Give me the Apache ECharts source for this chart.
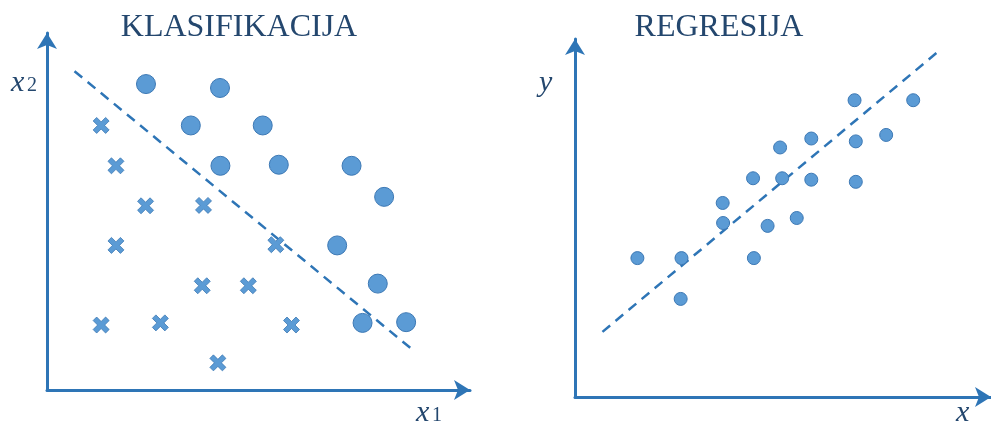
<!DOCTYPE html>
<html><head><meta charset="utf-8">
<script src="https://cdn.jsdelivr.net/npm/echarts@6/dist/echarts.min.js"></script>
<style>html,body{margin:0;padding:0;background:#fff}#c{width:991px;height:425px}</style>
</head><body><div id="c"></div>
<script>
// Classification: class A (circles) and class B (crosses), coordinates in x1/x2 units (0..10)
const clsCircles = [[2.34,8.57],[4.09,8.46],[3.40,7.41],[5.10,7.41],[4.10,6.28],[5.48,6.31],[7.20,6.28],[7.97,5.41],[6.86,4.05],[7.82,2.98],[7.46,1.88],[8.49,1.90]];
const clsCrosses = [[1.28,7.41],[1.63,6.28],[2.33,5.16],[3.70,5.17],[1.63,4.05],[5.41,4.07],[3.67,2.92],[4.76,2.92],[1.28,1.82],[2.68,1.88],[5.78,1.82],[4.04,0.76]];
const clsBoundary = [[0.65,8.93],[8.65,1.12]];
// Regression: points and fitted line (x/y units 0..10)
const regPoints = [[1.50,3.88],[2.56,3.88],[2.54,2.74],[3.55,5.42],[3.56,4.86],[4.28,6.11],[4.30,3.88],[4.63,4.78],[4.93,6.97],[4.98,6.11],[5.33,5.00],[5.68,7.22],[5.68,6.07],[6.72,8.29],[6.75,7.14],[6.75,6.01],[7.48,7.32],[8.13,8.29]];
const regLine = [[0.66,1.82],[8.71,9.63]];
const titles = ['KLASIFIKACIJA','REGRESIJA'];

const AX = '#2e75b6', PT = '#5b9bd5', PB = '#3c78b4', TXT = '#24476e';
const crossPath = 'path://M2.2,0 L5,2.8 L7.8,0 L10,2.2 L7.2,5 L10,7.8 L7.8,10 L5,7.2 L2.2,10 L0,7.8 L2.8,5 L0,2.2 Z';

function axis(gi){
  return {type:'value', gridIndex:gi, min:0, max:10, splitLine:{show:false}, axisTick:{show:false}, axisLabel:{show:false},
    axisLine:{show:true, onZero:false, symbol:['none','arrow'], symbolSize:[15,16], lineStyle:{color:AX, width:3}}};
}
function label(x, y, s, size, italic){
  return {type:'text', x:x, y:y, style:{text:s, fontFamily:'Liberation Serif', fontStyle:italic?'italic':'normal', fontSize:size, fill:TXT, verticalAlign:'bottom', align:'left'}};
}
const chart = echarts.init(document.getElementById('c'), null, {renderer:'canvas'});
chart.setOption({
  animation:false,
  title:[
    {text:titles[0], left:234, top:7, textAlign:'center', textStyle:{fontFamily:'Liberation Serif', fontWeight:'normal', fontSize:32, color:TXT}},
    {text:titles[1], left:714, top:7, textAlign:'center', textStyle:{fontFamily:'Liberation Serif', fontWeight:'normal', fontSize:32, color:TXT}}
  ],
  grid:[
    {left:47, top:33, width:423, height:357},
    {left:575, top:39, width:420, height:358}
  ],
  xAxis:[axis(0), axis(1)],
  yAxis:[axis(0), axis(1)],
  graphic:[
    label(11, 98, 'x', 30, true), label(27, 96, '2', 20, false),
    label(416, 428, 'x', 30, true), label(432, 426, '1', 20, false),
    label(539, 98, 'y', 30, true),
    label(956, 428, 'x', 30, true)
  ],
  series:[
    {type:'line', xAxisIndex:0, yAxisIndex:0, data:clsBoundary, symbol:'none', lineStyle:{color:AX, width:2.5, type:[10,7]}, z:1},
    {type:'scatter', xAxisIndex:0, yAxisIndex:0, data:clsCircles, symbol:'circle', symbolSize:19, itemStyle:{color:PT, borderColor:PB, borderWidth:1, opacity:1}, z:3},
    {type:'scatter', xAxisIndex:0, yAxisIndex:0, data:clsCrosses, symbol:crossPath, symbolSize:16, itemStyle:{color:PT, borderColor:PB, borderWidth:0.8, opacity:1}, z:3},
    {type:'line', xAxisIndex:1, yAxisIndex:1, data:regLine, symbol:'none', lineStyle:{color:AX, width:2.5, type:[10,7]}, z:1},
    {type:'scatter', xAxisIndex:1, yAxisIndex:1, data:regPoints, symbol:'circle', symbolSize:13, itemStyle:{color:PT, borderColor:PB, borderWidth:1, opacity:1}, z:3}
  ]
});
</script></body></html>
